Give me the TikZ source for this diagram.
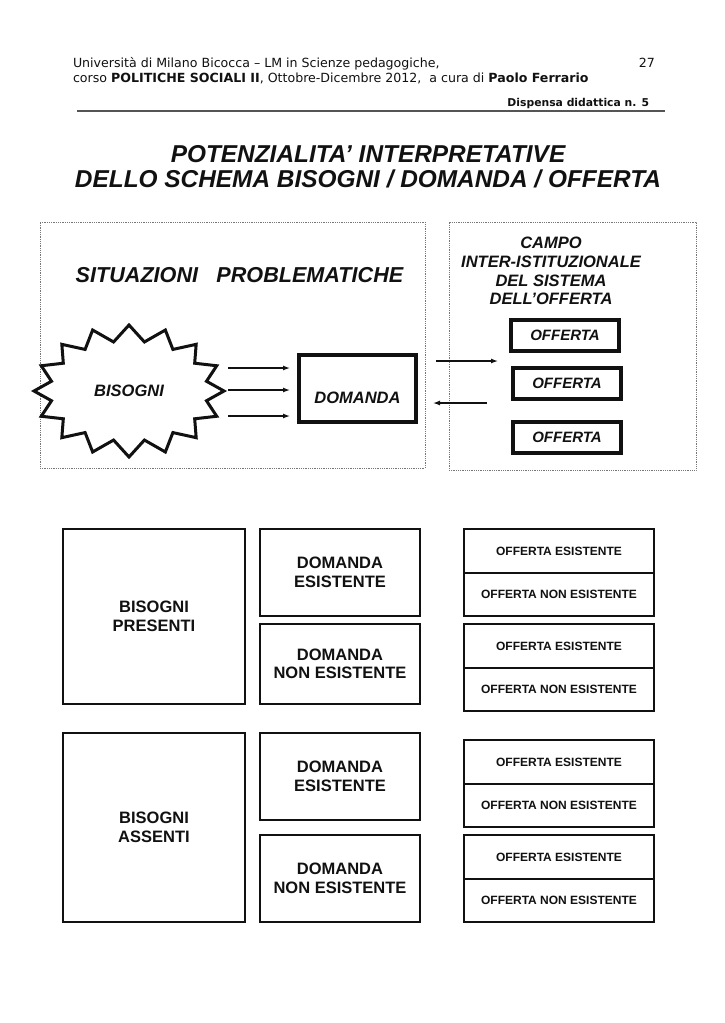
\documentclass[tikz,border=0pt]{standalone}
\usepackage{fontspec}
\setmainfont{Liberation Sans}
\newfontfamily\verdfont{DejaVu Sans}
\usepackage{tikz}
\usetikzlibrary{positioning,shapes.symbols,arrows.meta}
\definecolor{inkblack}{HTML}{111111}
\definecolor{dotgrey}{HTML}{777777}
\definecolor{rulegrey}{HTML}{555555}

\begin{document}
\begin{tikzpicture}[x=1pt, y=-1pt, >={Latex[length=7pt,width=5pt]},
                    every node/.style={inner sep=0pt, outer sep=0pt, text=inkblack},
                    hdr/.style={font=\verdfont\fontsize{12.6}{15}\selectfont},
                    dotbox/.style={draw=dotgrey, densely dotted, line width=0.8pt},
                    thickbox/.style={draw=inkblack, line width=3.5pt, align=center, font=\fontsize{15}{18}\selectfont\bfseries\itshape},
                    cellbox/.style={draw=inkblack, line width=1.2pt, align=center, font=\fontsize{16.5}{18.5}\selectfont\bfseries},
                    offcell/.style={draw=inkblack, line width=1.2pt, minimum width=190pt, align=center, font=\fontsize{12}{14}\selectfont\bfseries},
                    arr/.style={->, draw=inkblack, line width=1.3pt}]
        \useasboundingbox[fill=white] (0,0) rectangle (724,1023);

        % intestazione
        \node (hdrA) [hdr, anchor=base west] at (73,67) {Università di Milano Bicocca – LM in Scienze pedagogiche,};
        \node (hdrB) [hdr, anchor=base west] at (73,82) {corso \textbf{POLITICHE SOCIALI II}, Ottobre-Dicembre 2012,\ \ a cura di \textbf{Paolo Ferrario}};
        \node (pagenum) [hdr, anchor=base east] at (655,67) {27};
        \node (dispensa) [hdr, anchor=base east, font=\verdfont\fontsize{10.8}{13}\selectfont\bfseries] at (649,106) {Dispensa didattica n. 5};
        \coordinate (ruleL) at (77,111);
        \coordinate (ruleR) at (665,111);
        \draw[rulegrey, line width=1.3pt] (ruleL) -- (ruleR);

        % titolo
        \node (titleA) [anchor=base, font=\fontsize{24.4}{28}\selectfont\bfseries\itshape] at (368,162) {POTENZIALITA’ INTERPRETATIVE};
        \node (titleB) [anchor=base, font=\fontsize{24.4}{28}\selectfont\bfseries\itshape] at (368,187) {DELLO SCHEMA BISOGNI / DOMANDA / OFFERTA};

        % schema superiore
        \node (situaz) [dotbox, minimum width=385pt, minimum height=246pt] at (232.5,345) {};
        \node (campo) [dotbox, minimum width=247pt, minimum height=248pt] at (572.5,346) {};
        \node (situazT) [font=\fontsize{21.6}{24}\selectfont\bfseries\itshape] at (239.5,275) {SITUAZIONI\hspace{0.85em}PROBLEMATICHE};
        \node (campoT) [align=center, font=\fontsize{16.5}{18.7}\selectfont\bfseries\itshape] at (551,271) {CAMPO\\INTER-ISTITUZIONALE\\DEL SISTEMA\\DELL’OFFERTA};

        \node (bis) [starburst, draw=inkblack, line width=3pt, fill=white, starburst points=16, starburst point height=16pt, random starburst=0,
                     minimum width=190pt, minimum height=132pt, font=\fontsize{16.5}{18}\selectfont\bfseries\itshape] at (129,391) {BISOGNI};
        \node (dom) [thickbox, minimum width=117pt, minimum height=67pt, text height=32pt, text depth=2pt, font=\fontsize{16.5}{18}\selectfont\bfseries\itshape] at (357.5,388.5) {DOMANDA};
        \node (off1) [thickbox, minimum width=108pt, minimum height=31pt] at (565,335.5) {OFFERTA};
        \node (off2) [thickbox, minimum width=108pt, minimum height=31pt] at (567,383.5) {OFFERTA};
        \node (off3) [thickbox, minimum width=108pt, minimum height=31pt] at (567,437.5) {OFFERTA};

        \foreach \ya in {368,390,416}
            \draw[arr, shorten <=4pt] (bis.east |- 0,\ya) -- ([xshift=-9pt]dom.west |- 0,\ya);
        \draw[arr, shorten <=20pt, shorten >=13pt] (dom.east |- 0,361) -- (off1.west |- 0,361);
        \draw[arr, shorten <=26pt, shorten >=17pt] (off2.west |- 0,403) -- (dom.east |- 0,403);

        % griglia: bisogni presenti
        \node (bpres) [cellbox, minimum width=182pt, minimum height=175pt] at (154,616.5) {BISOGNI\\PRESENTI};
        \node (desA) [cellbox, minimum width=160pt, minimum height=87pt] at (340,572.5) {DOMANDA\\ESISTENTE};
        \node (dnesA) [cellbox, minimum width=160pt, minimum height=80pt, below=8pt of desA] {DOMANDA\\NON ESISTENTE};
        \node (oeA1) [offcell, minimum height=44pt] at (559,551) {OFFERTA ESISTENTE};
        \node (oneA1) [offcell, minimum height=43pt, below=0pt of oeA1] {OFFERTA NON ESISTENTE};
        \node (oeA2) [offcell, minimum height=44pt] at (559,646) {OFFERTA ESISTENTE};
        \node (oneA2) [offcell, minimum height=43pt, below=0pt of oeA2] {OFFERTA NON ESISTENTE};

        % griglia: bisogni assenti
        \node (bass) [cellbox, minimum width=182pt, minimum height=189pt] at (154,827.5) {BISOGNI\\ASSENTI};
        \node (desB) [cellbox, minimum width=160pt, minimum height=87pt] at (340,776.5) {DOMANDA\\ESISTENTE};
        \node (dnesB) [cellbox, minimum width=160pt, minimum height=87pt, below=15pt of desB] {DOMANDA\\NON ESISTENTE};
        \node (oeB1) [offcell, minimum height=44pt] at (559,762) {OFFERTA ESISTENTE};
        \node (oneB1) [offcell, minimum height=43pt, below=0pt of oeB1] {OFFERTA NON ESISTENTE};
        \node (oeB2) [offcell, minimum height=44pt] at (559,857) {OFFERTA ESISTENTE};
        \node (oneB2) [offcell, minimum height=43pt, below=0pt of oeB2] {OFFERTA NON ESISTENTE};
\end{tikzpicture}
\end{document}
